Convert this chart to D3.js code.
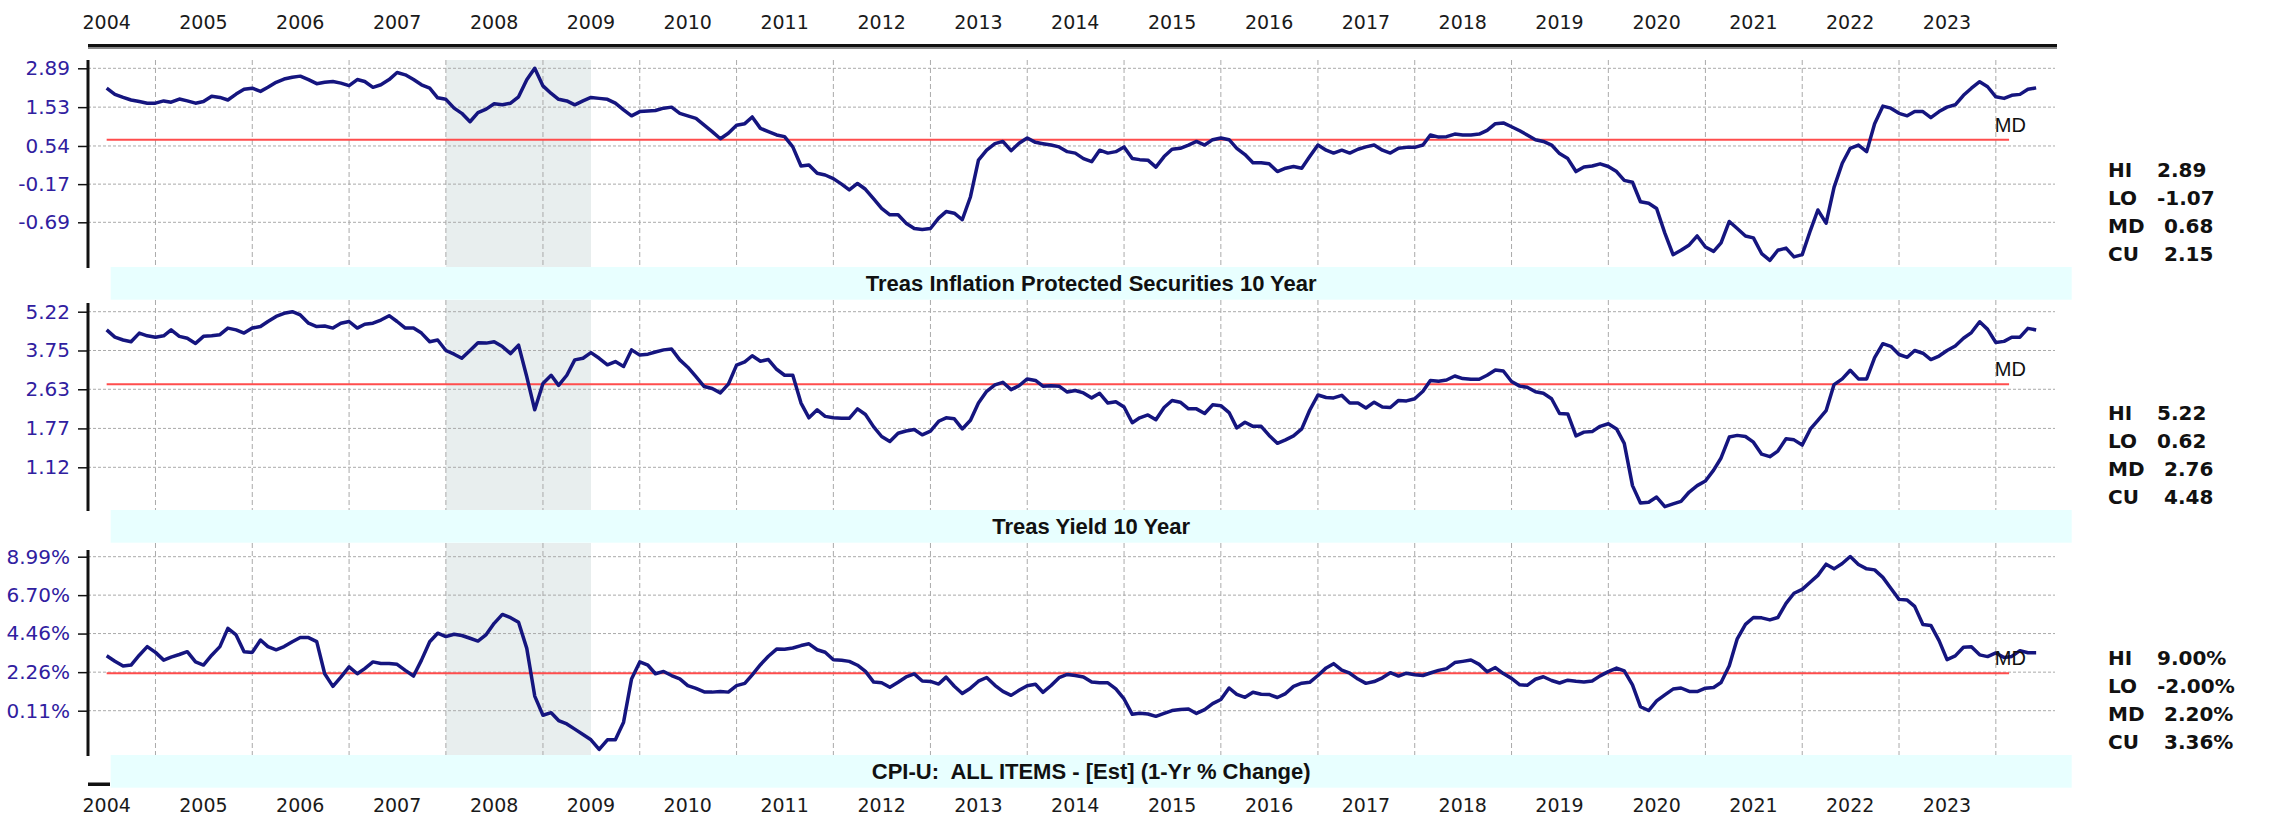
<!DOCTYPE html>
<html>
<head>
<meta charset="utf-8">
<script src="https://cdn.jsdelivr.net/npm/d3@7"></script>
<style>
  body { margin: 0; background: #fff; }
  svg { display: block; }
</style>
</head>
<body>
<div id="chart"></div>
<script>
// Year labels shown above and below the panels
var yearLabels = [2004, 2005, 2006, 2007, 2008, 2009, 2010, 2011, 2012, 2013,
                  2014, 2015, 2016, 2017, 2018, 2019, 2020, 2021, 2022, 2023];

// Monthly points, Jul 2004 .. Jun 2024
var firstMonth = new Date(Date.UTC(2004, 6, 1));
var endMonth = new Date(Date.UTC(2024, 6, 1));

// Recession shading
var recessionStart = new Date(Date.UTC(2008, 0, 1));
var recessionEnd = new Date(Date.UTC(2009, 6, 1));

var statLabels = ["HI", "LO", "MD", "CU"];

// Treas Inflation Protected Securities 10 Year
var tipsTitle = "Treas Inflation Protected Securities 10 Year";
var tipsTicks = [2.89, 1.53, 0.54, -0.17, -0.69];
var tipsStats = [2.89, -1.07, 0.68, 2.15];
var tips = [
  2.14, 1.93, 1.83, 1.75, 1.70, 1.65,                                   // 2004
  1.65, 1.72, 1.68, 1.78, 1.72, 1.65, 1.70, 1.87, 1.83, 1.75, 1.94, 2.10, // 2005
  2.14, 2.03, 2.17, 2.35, 2.47, 2.54, 2.58, 2.45, 2.30, 2.35, 2.38, 2.32, // 2006
  2.23, 2.45, 2.38, 2.17, 2.26, 2.45, 2.72, 2.63, 2.45, 2.26, 2.14, 1.82, // 2007
  1.77, 1.50, 1.35, 1.12, 1.37, 1.47, 1.63, 1.60, 1.65, 1.85, 2.44, 2.89, // 2008
  2.22, 1.96, 1.77, 1.72, 1.60, 1.72, 1.83, 1.80, 1.77, 1.65, 1.45, 1.28, // 2009
  1.40, 1.42, 1.43, 1.50, 1.53, 1.35, 1.28, 1.21, 1.03, 0.87, 0.70, 0.83, // 2010
  1.03, 1.07, 1.25, 0.95, 0.87, 0.79, 0.75, 0.52, 0.14, 0.16, 0.01, -0.02, // 2011
  -0.08, -0.17, -0.26, -0.16, -0.25, -0.39, -0.52, -0.60, -0.60, -0.70, -0.76, -0.77, // 2012
  -0.76, -0.64, -0.56, -0.58, -0.66, -0.36, 0.25, 0.45, 0.59, 0.64, 0.44, 0.60, // 2013
  0.72, 0.62, 0.59, 0.56, 0.52, 0.42, 0.39, 0.28, 0.22, 0.45, 0.39, 0.42, // 2014
  0.52, 0.28, 0.26, 0.25, 0.12, 0.32, 0.47, 0.49, 0.56, 0.64, 0.56, 0.68, // 2015
  0.72, 0.68, 0.49, 0.36, 0.20, 0.20, 0.18, 0.04, 0.10, 0.13, 0.10, 0.32, // 2016
  0.56, 0.45, 0.39, 0.45, 0.39, 0.47, 0.52, 0.56, 0.45, 0.39, 0.49, 0.51, // 2017
  0.51, 0.56, 0.79, 0.74, 0.75, 0.81, 0.79, 0.79, 0.81, 0.90, 1.07, 1.09, // 2018
  0.99, 0.89, 0.79, 0.68, 0.64, 0.56, 0.38, 0.28, 0.04, 0.12, 0.14, 0.18, // 2019
  0.13, 0.04, -0.11, -0.14, -0.43, -0.45, -0.52, -0.81, -1.02, -0.98, -0.93, -0.84, // 2020
  -0.95, -0.99, -0.91, -0.68, -0.76, -0.84, -0.86, -1.01, -1.07, -0.98, -0.96, -1.04, // 2021
  -1.02, -0.78, -0.54, -0.70, -0.22, 0.19, 0.49, 0.56, 0.42, 1.07, 1.56, 1.50, // 2022
  1.35, 1.28, 1.40, 1.40, 1.23, 1.40, 1.53, 1.60, 1.90, 2.14, 2.37, 2.19, // 2023
  1.85, 1.80, 1.90, 1.93, 2.10, 2.15                                    // 2024
];

// Treas Yield 10 Year
var yieldTitle = "Treas Yield 10 Year";
var yieldTicks = [5.22, 3.75, 2.63, 1.77, 1.12];
var yieldStats = [5.22, 0.62, 2.76, 4.48];
var yield10 = [
  4.48, 4.21, 4.11, 4.05, 4.36, 4.26,                                   // 2004
  4.21, 4.26, 4.48, 4.24, 4.17, 3.99, 4.24, 4.26, 4.30, 4.55, 4.48, 4.36, // 2005
  4.55, 4.61, 4.81, 5.02, 5.15, 5.22, 5.08, 4.74, 4.61, 4.63, 4.55, 4.74, // 2006
  4.81, 4.55, 4.70, 4.74, 4.87, 5.05, 4.81, 4.55, 4.55, 4.36, 4.05, 4.11, // 2007
  3.75, 3.63, 3.50, 3.75, 4.01, 4.00, 4.05, 3.88, 3.65, 3.93, 2.96, 2.15, // 2008
  2.78, 3.00, 2.73, 3.00, 3.45, 3.50, 3.68, 3.50, 3.30, 3.40, 3.25, 3.77, // 2009
  3.60, 3.63, 3.70, 3.77, 3.80, 3.45, 3.23, 2.96, 2.70, 2.65, 2.54, 2.76, // 2010
  3.29, 3.39, 3.58, 3.41, 3.46, 3.17, 3.00, 3.00, 2.30, 1.98, 2.15, 2.01, // 2011
  1.98, 1.97, 1.97, 2.17, 2.05, 1.80, 1.62, 1.53, 1.68, 1.72, 1.75, 1.65, // 2012
  1.72, 1.91, 1.98, 1.96, 1.76, 1.93, 2.30, 2.58, 2.74, 2.81, 2.62, 2.72, // 2013
  2.90, 2.86, 2.71, 2.72, 2.71, 2.56, 2.60, 2.54, 2.42, 2.53, 2.30, 2.33, // 2014
  2.21, 1.88, 1.98, 2.04, 1.94, 2.20, 2.36, 2.32, 2.17, 2.17, 2.07, 2.26, // 2015
  2.24, 2.09, 1.78, 1.89, 1.81, 1.81, 1.64, 1.50, 1.56, 1.63, 1.76, 2.14, // 2016
  2.49, 2.43, 2.42, 2.48, 2.30, 2.30, 2.19, 2.32, 2.21, 2.20, 2.36, 2.35, // 2017
  2.40, 2.58, 2.86, 2.84, 2.87, 2.98, 2.91, 2.89, 2.89, 3.00, 3.15, 3.12, // 2018
  2.83, 2.71, 2.68, 2.57, 2.53, 2.40, 2.07, 2.06, 1.63, 1.70, 1.71, 1.81, // 2019
  1.86, 1.76, 1.50, 0.87, 0.66, 0.67, 0.73, 0.62, 0.65, 0.68, 0.79, 0.87, // 2020
  0.93, 1.08, 1.26, 1.61, 1.64, 1.62, 1.52, 1.32, 1.28, 1.37, 1.58, 1.56, // 2021
  1.47, 1.76, 1.93, 2.13, 2.75, 2.90, 3.14, 2.90, 2.90, 3.52, 3.98, 3.89, // 2022
  3.62, 3.53, 3.75, 3.66, 3.46, 3.57, 3.75, 3.90, 4.17, 4.38, 4.80, 4.50, // 2023
  4.02, 4.06, 4.21, 4.21, 4.54, 4.48                                    // 2024
];

// CPI-U: ALL ITEMS - [Est] (1-Yr % Change)
var cpiTitle = "CPI-U:  ALL ITEMS - [Est] (1-Yr % Change)";
var cpiTicks = [8.99, 6.70, 4.46, 2.26, 0.11];
var cpiStats = [9.00, -2.00, 2.20, 3.36];
var cpi = [
  3.19, 2.88, 2.61, 2.66, 3.22, 3.71,                                   // 2004
  3.38, 2.94, 3.11, 3.26, 3.42, 2.84, 2.66, 3.22, 3.71, 4.76, 4.38, 3.42, // 2005
  3.38, 4.09, 3.71, 3.53, 3.71, 3.99, 4.23, 4.23, 4.00, 2.17, 1.46, 1.98, // 2006
  2.56, 2.17, 2.46, 2.84, 2.75, 2.75, 2.70, 2.36, 2.04, 2.94, 3.99, 4.48, // 2007
  4.28, 4.42, 4.35, 4.19, 4.03, 4.40, 5.05, 5.57, 5.38, 5.11, 3.61, 0.92, // 2008
  -0.14, 0.00, -0.43, -0.62, -0.90, -1.19, -1.48, -2.00, -1.48, -1.48, -0.52, 1.88, // 2009
  2.84, 2.65, 2.17, 2.30, 2.07, 1.88, 1.50, 1.35, 1.15, 1.14, 1.17, 1.14, // 2010
  1.50, 1.63, 2.11, 2.68, 3.16, 3.57, 3.56, 3.63, 3.77, 3.87, 3.53, 3.39, // 2011
  2.96, 2.93, 2.87, 2.65, 2.30, 1.70, 1.66, 1.41, 1.69, 1.99, 2.16, 1.76, // 2012
  1.74, 1.59, 1.98, 1.47, 1.06, 1.36, 1.75, 1.96, 1.52, 1.18, 0.96, 1.24, // 2013
  1.50, 1.58, 1.13, 1.51, 1.95, 2.13, 2.07, 1.99, 1.70, 1.66, 1.66, 1.32, // 2014
  0.76, -0.09, -0.03, -0.07, -0.20, -0.04, 0.12, 0.17, 0.20, -0.04, 0.17, 0.50, // 2015
  0.73, 1.37, 1.02, 0.85, 1.13, 1.02, 1.01, 0.84, 1.06, 1.46, 1.64, 1.69, // 2016
  2.07, 2.50, 2.74, 2.38, 2.20, 1.87, 1.63, 1.73, 1.94, 2.23, 2.04, 2.20, // 2017
  2.11, 2.07, 2.21, 2.36, 2.46, 2.80, 2.87, 2.95, 2.70, 2.28, 2.52, 2.18, // 2018
  1.91, 1.55, 1.52, 1.86, 2.00, 1.79, 1.65, 1.81, 1.75, 1.71, 1.76, 2.05, // 2019
  2.29, 2.49, 2.33, 1.54, 0.33, 0.12, 0.65, 0.99, 1.31, 1.37, 1.18, 1.17, // 2020
  1.36, 1.40, 1.68, 2.62, 4.16, 4.99, 5.39, 5.37, 5.25, 5.39, 6.22, 6.81, // 2021
  7.04, 7.48, 7.87, 8.54, 8.26, 8.58, 9.00, 8.52, 8.26, 8.20, 7.75, 7.11, // 2022
  6.45, 6.41, 6.04, 4.98, 4.93, 4.05, 2.97, 3.18, 3.67, 3.70, 3.24, 3.14, // 2023
  3.35, 3.09, 3.15, 3.48, 3.36, 3.36                                    // 2024
];

// ---------------------------------------------------------------------
var W = 2269, H = 819;
var axisX = 88, gridRight = 2055, bandLeft = 110.7, bandRight = 2071.7, bandH = 32.7;
var lineColor = "#15157f", tickColor = "#3020a0";

var dates = d3.utcMonth.range(firstMonth, endMonth);

// plain hyphen for negatives, like the original
var num2 = function(v) { return v.toFixed(2); };
var pct2 = function(v) { return v.toFixed(2) + "%"; };

var svg = d3.select("#chart").append("svg")
            .attr("width", W)
            .attr("height", H);

var x = d3.scaleUtc()
          .domain([new Date(Date.UTC(2004, 0, 1)), new Date(Date.UTC(2025, 0, 1))])
          .range([58.4, 2092.9]);

var yearStarts = d3.utcYear.range(new Date(Date.UTC(2005, 0, 1)), new Date(Date.UTC(2025, 0, 1)));
var midYear = function(y) { return new Date(Date.UTC(y, 6, 1)); };
var mdEnd = new Date(Date.UTC(2024, 1, 20));

// panel layout: gridTop / axisTop / bottom (title band top) / first & last tick rows
var panels = [
  {title: tipsTitle, values: tips, ticks: tipsTicks, stats: tipsStats, offset: 2.11,
   fmt: num2, gridTop: 60, axisTop: 60, bottom: 267, yT: 68.3, yB: 222.3, statTop: 170},
  {title: yieldTitle, values: yield10, ticks: yieldTicks, stats: yieldStats, offset: 0.954,
   fmt: num2, gridTop: 300, axisTop: 303, bottom: 510, yT: 311.7, yB: 467.3, statTop: 413},
  {title: cpiTitle, values: cpi, ticks: cpiTicks, stats: cpiStats, offset: 96,
   fmt: pct2, gridTop: 543, axisTop: 550, bottom: 755, yT: 556.7, yB: 710.7, statTop: 658}
];

// top black rule
svg.append("rect").attr("x", axisX).attr("y", 44).attr("width", 2057 - axisX).attr("height", 3.5).attr("fill", "#111");
svg.append("rect").attr("x", axisX).attr("y", 47.5).attr("width", 2057 - axisX).attr("height", 1.5).attr("fill", "#888");
// small bottom dash
svg.append("rect").attr("x", axisX).attr("y", 782.5).attr("width", 22).attr("height", 3.5).attr("fill", "#111");

// year labels (top and bottom)
[29, 812].forEach(function(baseline) {
  svg.append("g").selectAll("text")
     .data(yearLabels)
     .enter().append("text")
       .attr("x", function(d) { return x(midYear(d)); })
       .attr("y", baseline)
       .attr("text-anchor", "middle")
       .style("font-family", "'DejaVu Sans', Verdana, sans-serif")
       .style("font-size", "19px")
       .style("fill", "#1a1a1a")
       .text(function(d) { return d; });
});

panels.forEach(function(p) {
  var g = svg.append("g");
  var off = p.offset;
  var y = d3.scaleLog()
            .domain([p.ticks[0] + off, p.ticks[p.ticks.length - 1] + off])
            .range([p.yT, p.yB]);
  var yv = function(v) { return y(v + off); };

  // recession shading
  g.append("rect")
   .attr("x", x(recessionStart))
   .attr("y", p.gridTop)
   .attr("width", x(recessionEnd) - x(recessionStart))
   .attr("height", p.bottom - p.gridTop)
   .attr("fill", "#e8eeee");

  // vertical grid at each January
  g.append("g").selectAll("line")
   .data(yearStarts)
   .enter().append("line")
     .attr("x1", function(d) { return x(d); })
     .attr("x2", function(d) { return x(d); })
     .attr("y1", p.gridTop)
     .attr("y2", p.bottom)
     .attr("stroke", "#aaa")
     .attr("stroke-width", 1)
     .attr("stroke-dasharray", "5,3");

  // horizontal grid
  g.append("g").selectAll("line")
   .data(p.ticks)
   .enter().append("line")
     .attr("x1", axisX)
     .attr("x2", gridRight)
     .attr("y1", function(d) { return yv(d); })
     .attr("y2", function(d) { return yv(d); })
     .attr("stroke", "#aaa")
     .attr("stroke-width", 1)
     .attr("stroke-dasharray", "3,2");

  // y axis
  var axis = d3.axisLeft(y)
               .tickValues(p.ticks.map(function(t) { return t + off; }))
               .tickFormat(function(d) { return p.fmt(d - off); })
               .tickSize(10)
               .tickPadding(8);
  var ax = g.append("g").attr("transform", "translate(" + axisX + ",0)").call(axis);
  ax.select(".domain").remove();
  ax.selectAll(".tick line").attr("stroke", "#111").attr("stroke-width", 1.5);
  ax.selectAll(".tick text")
    .style("font-family", "'DejaVu Sans', Verdana, sans-serif")
    .style("font-size", "20px")
    .style("fill", tickColor);

  g.append("line")
   .attr("x1", axisX).attr("x2", axisX)
   .attr("y1", p.axisTop).attr("y2", p.bottom + 1)
   .attr("stroke", "#111")
   .attr("stroke-width", 3);

  // median line
  var md = p.stats[2];
  g.append("line")
   .attr("x1", x(dates[0])).attr("x2", x(mdEnd))
   .attr("y1", yv(md)).attr("y2", yv(md))
   .attr("stroke", "#ff4d4d")
   .attr("stroke-width", 2);

  // series
  var line = d3.line()
               .x(function(d, i) { return x(dates[i]); })
               .y(function(d) { return yv(d); });
  g.append("path")
   .datum(p.values)
   .attr("d", line)
   .attr("fill", "none")
   .attr("stroke", lineColor)
   .attr("stroke-width", 3.5)
   .attr("stroke-linejoin", "round");

  g.append("text")
   .attr("x", x(new Date(Date.UTC(2024, 0, 1))) - 1)
   .attr("y", yv(md) - 8)
   .style("font-family", "'Liberation Sans', Arial, sans-serif")
   .style("font-size", "20px")
   .style("fill", "#111")
   .text("MD");

  // title band
  g.append("rect")
   .attr("x", bandLeft).attr("y", p.bottom)
   .attr("width", bandRight - bandLeft).attr("height", bandH)
   .attr("fill", "#e8ffff");
  g.append("text")
   .attr("x", (bandLeft + bandRight) / 2)
   .attr("y", p.bottom + bandH / 2 + 8)
   .attr("text-anchor", "middle")
   .style("font-family", "'Liberation Sans', Arial, sans-serif")
   .style("font-weight", "bold")
   .style("font-size", "22px")
   .style("white-space", "pre")
   .style("fill", "#111")
   .text(p.title);

  // stats block
  var st = g.append("g");
  statLabels.forEach(function(lab, i) {
    var yy = p.statTop + i * 28 + 7;
    st.append("text")
      .attr("x", 2108).attr("y", yy)
      .style("font-family", "'DejaVu Sans', Verdana, sans-serif")
      .style("font-weight", "bold").style("font-size", "20px").style("fill", "#111")
      .text(lab);
    st.append("text")
      .attr("x", i >= 2 ? 2164 : 2157).attr("y", yy)
      .style("font-family", "'DejaVu Sans', Verdana, sans-serif")
      .style("font-weight", "bold").style("font-size", "20px").style("fill", "#111")
      .text(p.fmt(p.stats[i]));
  });
});
</script>
</body>
</html>
